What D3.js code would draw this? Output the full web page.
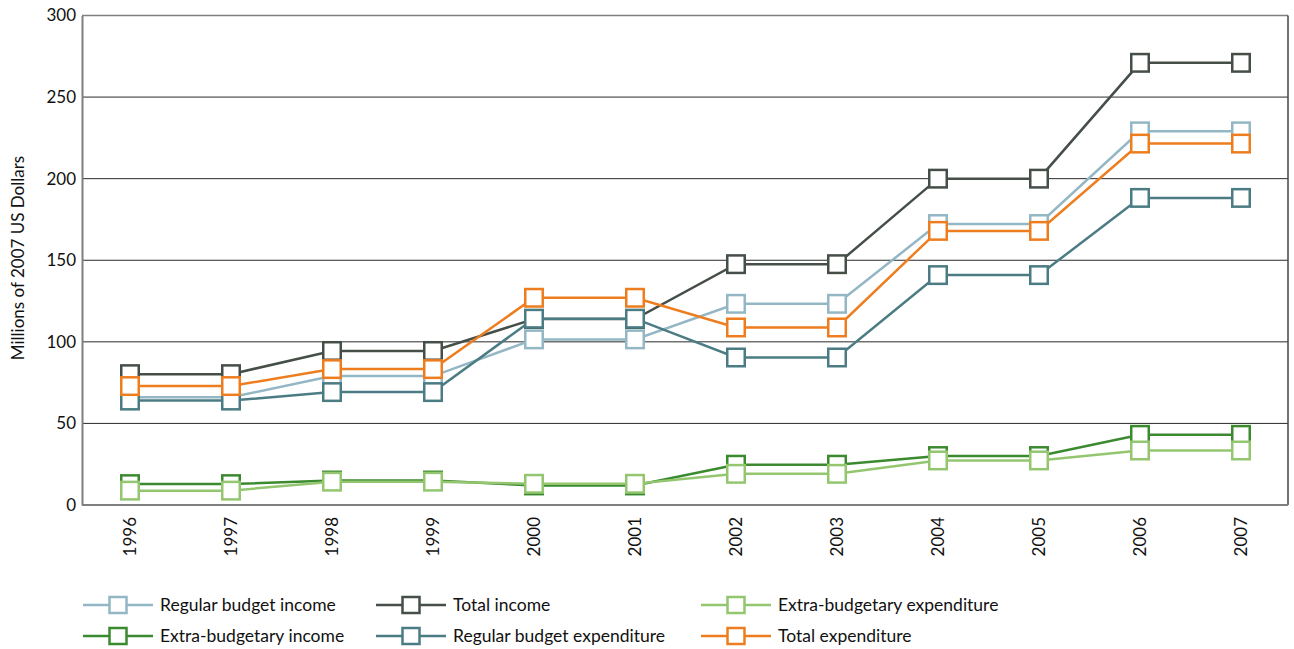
<!DOCTYPE html>
<html>
<head>
<meta charset="utf-8">
<script src="https://cdn.jsdelivr.net/npm/d3@7"></script>
<style>
  html, body { margin: 0; padding: 0; background: #fff; }
  svg { display: block; }
  text { font-family: Lato, "Open Sans", sans-serif; fill: #111; }
</style>
</head>
<body>
<svg id="chart" width="1294" height="649"></svg>
<script>
// ---- Data ----
const years = ["1996","1997","1998","1999","2000","2001","2002","2003","2004","2005","2006","2007"];
const yTicks = [0, 50, 100, 150, 200, 250, 300];

const regularBudgetIncome      = [66, 66, 79, 79, 101.5, 101.5, 123.3, 123.3, 172.2, 172.2, 229, 229];
const extraBudgetaryIncome     = [12.8, 12.8, 15, 15, 12, 12, 24.7, 24.7, 30, 30, 43, 43];
const totalIncome              = [80.2, 80.2, 94.4, 94.4, 114, 114, 147.6, 147.6, 200, 200, 271, 271];
const regularBudgetExpenditure = [64, 64, 69.2, 69.2, 114.2, 114.2, 90.4, 90.4, 140.9, 140.9, 188.2, 188.2];
const extraBudgetaryExpenditure= [8.8, 8.8, 14.3, 14.3, 13, 13, 19.1, 19.1, 27.3, 27.3, 33.4, 33.4];
const totalExpenditure         = [72.9, 72.9, 83.3, 83.3, 127, 127, 108.8, 108.8, 168, 168, 221.5, 221.5];

const seriesNames  = ["Regular budget income","Extra-budgetary income","Total income",
                      "Regular budget expenditure","Extra-budgetary expenditure","Total expenditure"];
const seriesValues = [regularBudgetIncome, extraBudgetaryIncome, totalIncome,
                      regularBudgetExpenditure, extraBudgetaryExpenditure, totalExpenditure];
const seriesColors = ["#93b7c4","#3b8a2f","#454f48","#4b7c84","#93c66f","#ee7d1f"];

// ---- Layout ----
const svg = d3.select("#chart");
const plot = { left: 82, right: 1288, top: 15.5, bottom: 505 };

const x = d3.scalePoint().domain(years).range([130, 1241]);
const y = d3.scaleLinear().domain([0, 300]).range([plot.bottom, plot.top]);

// gridlines
svg.append("g").selectAll("line")
  .data(yTicks.filter(t => t > 0 && t < 300))
  .join("line")
  .attr("x1", plot.left).attr("x2", plot.right)
  .attr("y1", d => y(d)).attr("y2", d => y(d))
  .attr("stroke", "#2a2a2a").attr("stroke-width", 1);

// frame
svg.append("line").attr("x1", plot.left).attr("x2", plot.right)
  .attr("y1", plot.top).attr("y2", plot.top).attr("stroke", "#7f7f7f").attr("stroke-width", 1.5);
svg.append("line").attr("x1", plot.right).attr("x2", plot.right)
  .attr("y1", plot.top).attr("y2", plot.bottom).attr("stroke", "#444").attr("stroke-width", 1.5);

// y axis
const yAxis = svg.append("g").attr("transform", `translate(${plot.left},0)`)
  .call(d3.axisLeft(y).tickValues(yTicks).tickSize(0).tickPadding(6));
yAxis.select(".domain").attr("stroke", "#7f7f7f").attr("stroke-width", 2);
yAxis.selectAll("text").style("font-family", "Lato, sans-serif").style("font-size", "17px").attr("fill", "#111");

// x axis
const xAxis = svg.append("g").attr("transform", `translate(0,${plot.bottom})`)
  .call(d3.axisBottom(x).tickSize(0).tickPadding(0));
xAxis.select(".domain").attr("d", `M${plot.left},0H${plot.right}`)
  .attr("stroke", "#7f7f7f").attr("stroke-width", 2);
xAxis.selectAll("text")
  .style("font-family", "Lato, sans-serif").style("font-size", "17px").attr("fill", "#111")
  .attr("transform", "rotate(-90)")
  .attr("text-anchor", "end")
  .attr("x", -12).attr("y", 0).attr("dy", "0.35em");

// y title
svg.append("text")
  .attr("transform", "translate(18,258) rotate(-90)")
  .attr("text-anchor", "middle").attr("dy", "0.35em")
  .style("font-size", "17px")
  .text("Millions of 2007 US Dollars");

// lines and markers
const line = d3.line().x((d, i) => x(years[i])).y(d => y(d));
const markerSize = 17.5;
seriesValues.forEach((vals, si) => {
  const g = svg.append("g");
  g.append("path").datum(vals).attr("d", line)
    .attr("fill", "none").attr("stroke", seriesColors[si]).attr("stroke-width", 2.5);
  g.selectAll("rect").data(vals).join("rect")
    .attr("x", (d, i) => x(years[i]) - markerSize / 2)
    .attr("y", d => y(d) - markerSize / 2)
    .attr("width", markerSize).attr("height", markerSize)
    .attr("fill", "#fff").attr("stroke", seriesColors[si]).attr("stroke-width", 2.5);
});

// legend (column-wise order)
const legendCols = [83, 376, 701];
const legendRows = [605, 636];
seriesNames.forEach((name, si) => {
  const cx = legendCols[Math.floor(si / 2)];
  const cy = legendRows[si % 2];
  const g = svg.append("g").attr("transform", `translate(${cx},${cy})`);
  g.append("line").attr("x1", 0).attr("x2", 70).attr("y1", 0).attr("y2", 0)
    .attr("stroke", seriesColors[si]).attr("stroke-width", 2.5);
  g.append("rect").attr("x", 35 - 8.5).attr("y", -8).attr("width", 17).attr("height", 16)
    .attr("fill", "#fff").attr("stroke", seriesColors[si]).attr("stroke-width", 2.5);
  g.append("text").attr("x", 77).attr("y", 0).attr("dy", "0.35em")
    .style("font-size", "17.5px").text(name);
});
</script>
</body>
</html>
